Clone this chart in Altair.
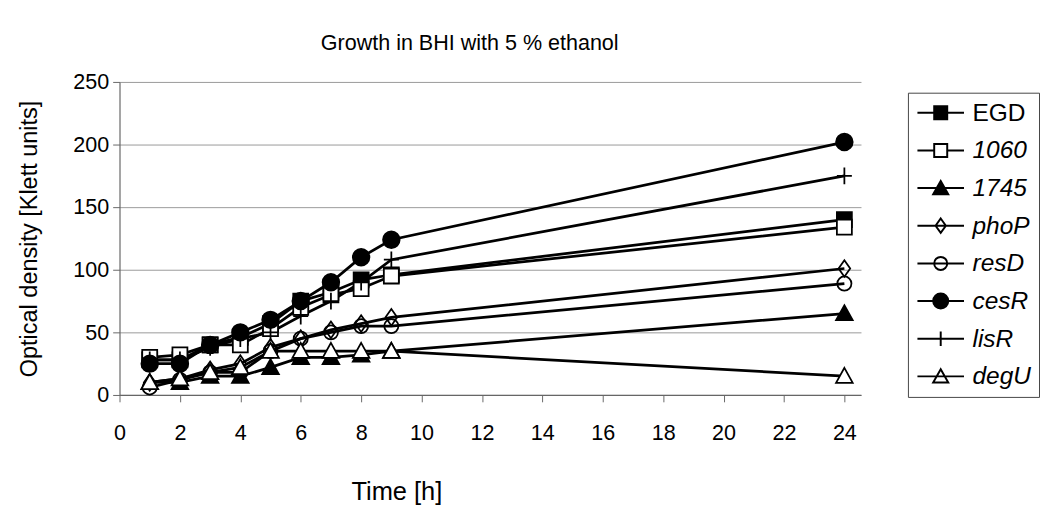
import altair as alt
import pandas as pd

times = [1, 2, 3, 4, 5, 6, 7, 8, 9, 24]
series_names = ["EGD", "1060", "1745", "phoP", "resD", "cesR", "lisR", "degU"]

egd = [28, 28, 40, 46, 57, 75, 82, 92, 96, 140]
s1060 = [30, 32, 40, 40, 53, 70, 80, 85, 95, 134]
s1745 = [10, 10, 15, 15, 22, 30, 30, 32, 35, 65]
phop = [10, 13, 20, 25, 38, 45, 52, 57, 62, 101]
resd = [6, 12, 18, 18, 35, 45, 50, 55, 55, 89]
cesr = [25, 25, 40, 50, 60, 75, 90, 110, 124, 202]
lisr = [28, 28, 38, 45, 50, 63, 75, 90, 108, 175]
degu = [10, 13, 18, 22, 35, 35, 35, 35, 35, 15]

all_vals = [egd, s1060, s1745, phop, resd, cesr, lisr, degu]

rows = []
for name, vals in zip(series_names, all_vals):
    for t, v in zip(times, vals):
        rows.append({"series": name, "time": t, "od": v})
df = pd.DataFrame(rows)

x_ticks = list(range(0, 25, 2))
y_ticks = [0, 50, 100, 150, 200, 250]

# marker shapes in the plot
sq = "M-0.9,-0.9H0.9V0.9H-0.9Z"
tri = "M0,-1L1,0.8L-1,0.8Z"
dia = "M0,-1L0.7,0L0,1L-0.7,0Z"
circ_s = "M-0.85,0A0.85,0.85,0,1,0,0.85,0A0.85,0.85,0,1,0,-0.85,0Z"
circ_l = "M-1,0A1,1,0,1,0,1,0A1,1,0,1,0,-1,0Z"
plus = "M-0.9,0H0.9M0,-1V1"
plot_shapes = [sq, sq, tri, dia, circ_s, circ_l, plus, tri]
plot_fills = ["black", "white", "black", "transparent", "transparent", "black", "white", "white"]

# legend symbols: marker with line stub
stub = "M-3.4,0H3.4"
leg_shapes = [
    stub + "M-0.95,-0.95H0.95V0.95H-0.95Z",
    "M-3.4,0H-0.95M0.95,0H3.4M-0.95,-0.95H0.95V0.95H-0.95Z",
    stub + "M0,-1.05L1.1,0.9L-1.1,0.9Z",
    stub + "M0,-1.05L0.75,0L0,1.05L-0.75,0Z",
    stub + "M-0.95,0A0.95,0.95,0,1,0,0.95,0A0.95,0.95,0,1,0,-0.95,0Z",
    stub + "M-1.1,0A1.1,1.1,0,1,0,1.1,0A1.1,1.1,0,1,0,-1.1,0Z",
    stub + "M0,-1.05V1.05",
    stub + "M0,-1.05L1.1,0.9L-1.1,0.9Z",
]
leg_fills = ["black", "white", "black", "transparent", "transparent", "black", "white", "transparent"]
leg_strokes = ["black"] * len(series_names)

FONT = "Liberation Sans"

x_enc = alt.X(
    "time:Q",
    scale=alt.Scale(domain=[0, 24.55], nice=False, zero=False),
    axis=alt.Axis(
        values=x_ticks, grid=False, title="Time [h]", tickSize=7,
        labelPadding=22, titlePadding=36, titleX=283, titleAnchor="start",
        titleAlign="center", labelFlush=False, titleFontSize=26,
    ),
)
y_enc = alt.Y(
    "od:Q",
    scale=alt.Scale(domain=[0, 250], nice=False),
    axis=alt.Axis(
        values=y_ticks, grid=True, title="Optical density [Klett units]",
        tickSize=7, labelPadding=4, titlePadding=32, titleFontSize=24,
    ),
)

lines = alt.Chart(df).mark_line(color="black", strokeWidth=2.8).encode(
    x=x_enc, y=y_enc, detail="series:N", order="time:Q"
)

points = alt.Chart(df).mark_point(
    filled=True, stroke="black", strokeWidth=1.8, opacity=1, size=289
).encode(
    x=x_enc,
    y=y_enc,
    shape=alt.Shape("series:N", scale=alt.Scale(domain=series_names, range=plot_shapes), legend=None),
    fill=alt.Fill("series:N", scale=alt.Scale(domain=series_names, range=plot_fills), legend=None),
)

leg = alt.Legend(
    title=None, orient="none", legendX=806, legendY=11,
    symbolSize=196, symbolStrokeWidth=2, symbolStrokeColor="black",
    symbolOffset=13, labelOffset=20, labelFont=FONT, labelFontSize=25,
    labelColor="black", labelFontStyle={"expr": "datum.label == 'EGD' ? 'normal' : 'italic'"},
    rowPadding=12.5, padding=8, strokeColor="#444", fillColor="white", labelLimit=200,
)

legend_layer = alt.Chart(df).transform_filter("false").mark_point(
    filled=False, strokeWidth=2, opacity=1
).encode(
    shape=alt.Shape("series:N", scale=alt.Scale(domain=series_names, range=leg_shapes), legend=leg, sort=series_names),
    fill=alt.Fill("series:N", scale=alt.Scale(domain=series_names, range=leg_fills), legend=leg, sort=series_names),
    stroke=alt.Stroke("series:N", scale=alt.Scale(domain=series_names, range=leg_strokes), legend=leg, sort=series_names),
)

chart = alt.layer(lines, points, legend_layer).resolve_scale(
    shape="independent", fill="independent", stroke="independent"
).properties(
    width=758, height=320,
    title=alt.TitleParams("Growth in BHI with 5 % ethanol", font=FONT, fontSize=22,
                          fontWeight="normal", color="black", offset=17, dx=-21),
    padding={"left": 10, "top": 19, "right": 0, "bottom": 0},
).configure_view(stroke=None).configure_axis(
    labelFont=FONT, titleFont=FONT, labelFontSize=22,
    titleFontWeight="normal", labelColor="black", titleColor="black",
    domainColor="#666", tickColor="#666", gridColor="#999", gridWidth=1,
    domainWidth=1.2,
)

chart.save("out.html", embed_options={"renderer": "svg", "actions": False})
